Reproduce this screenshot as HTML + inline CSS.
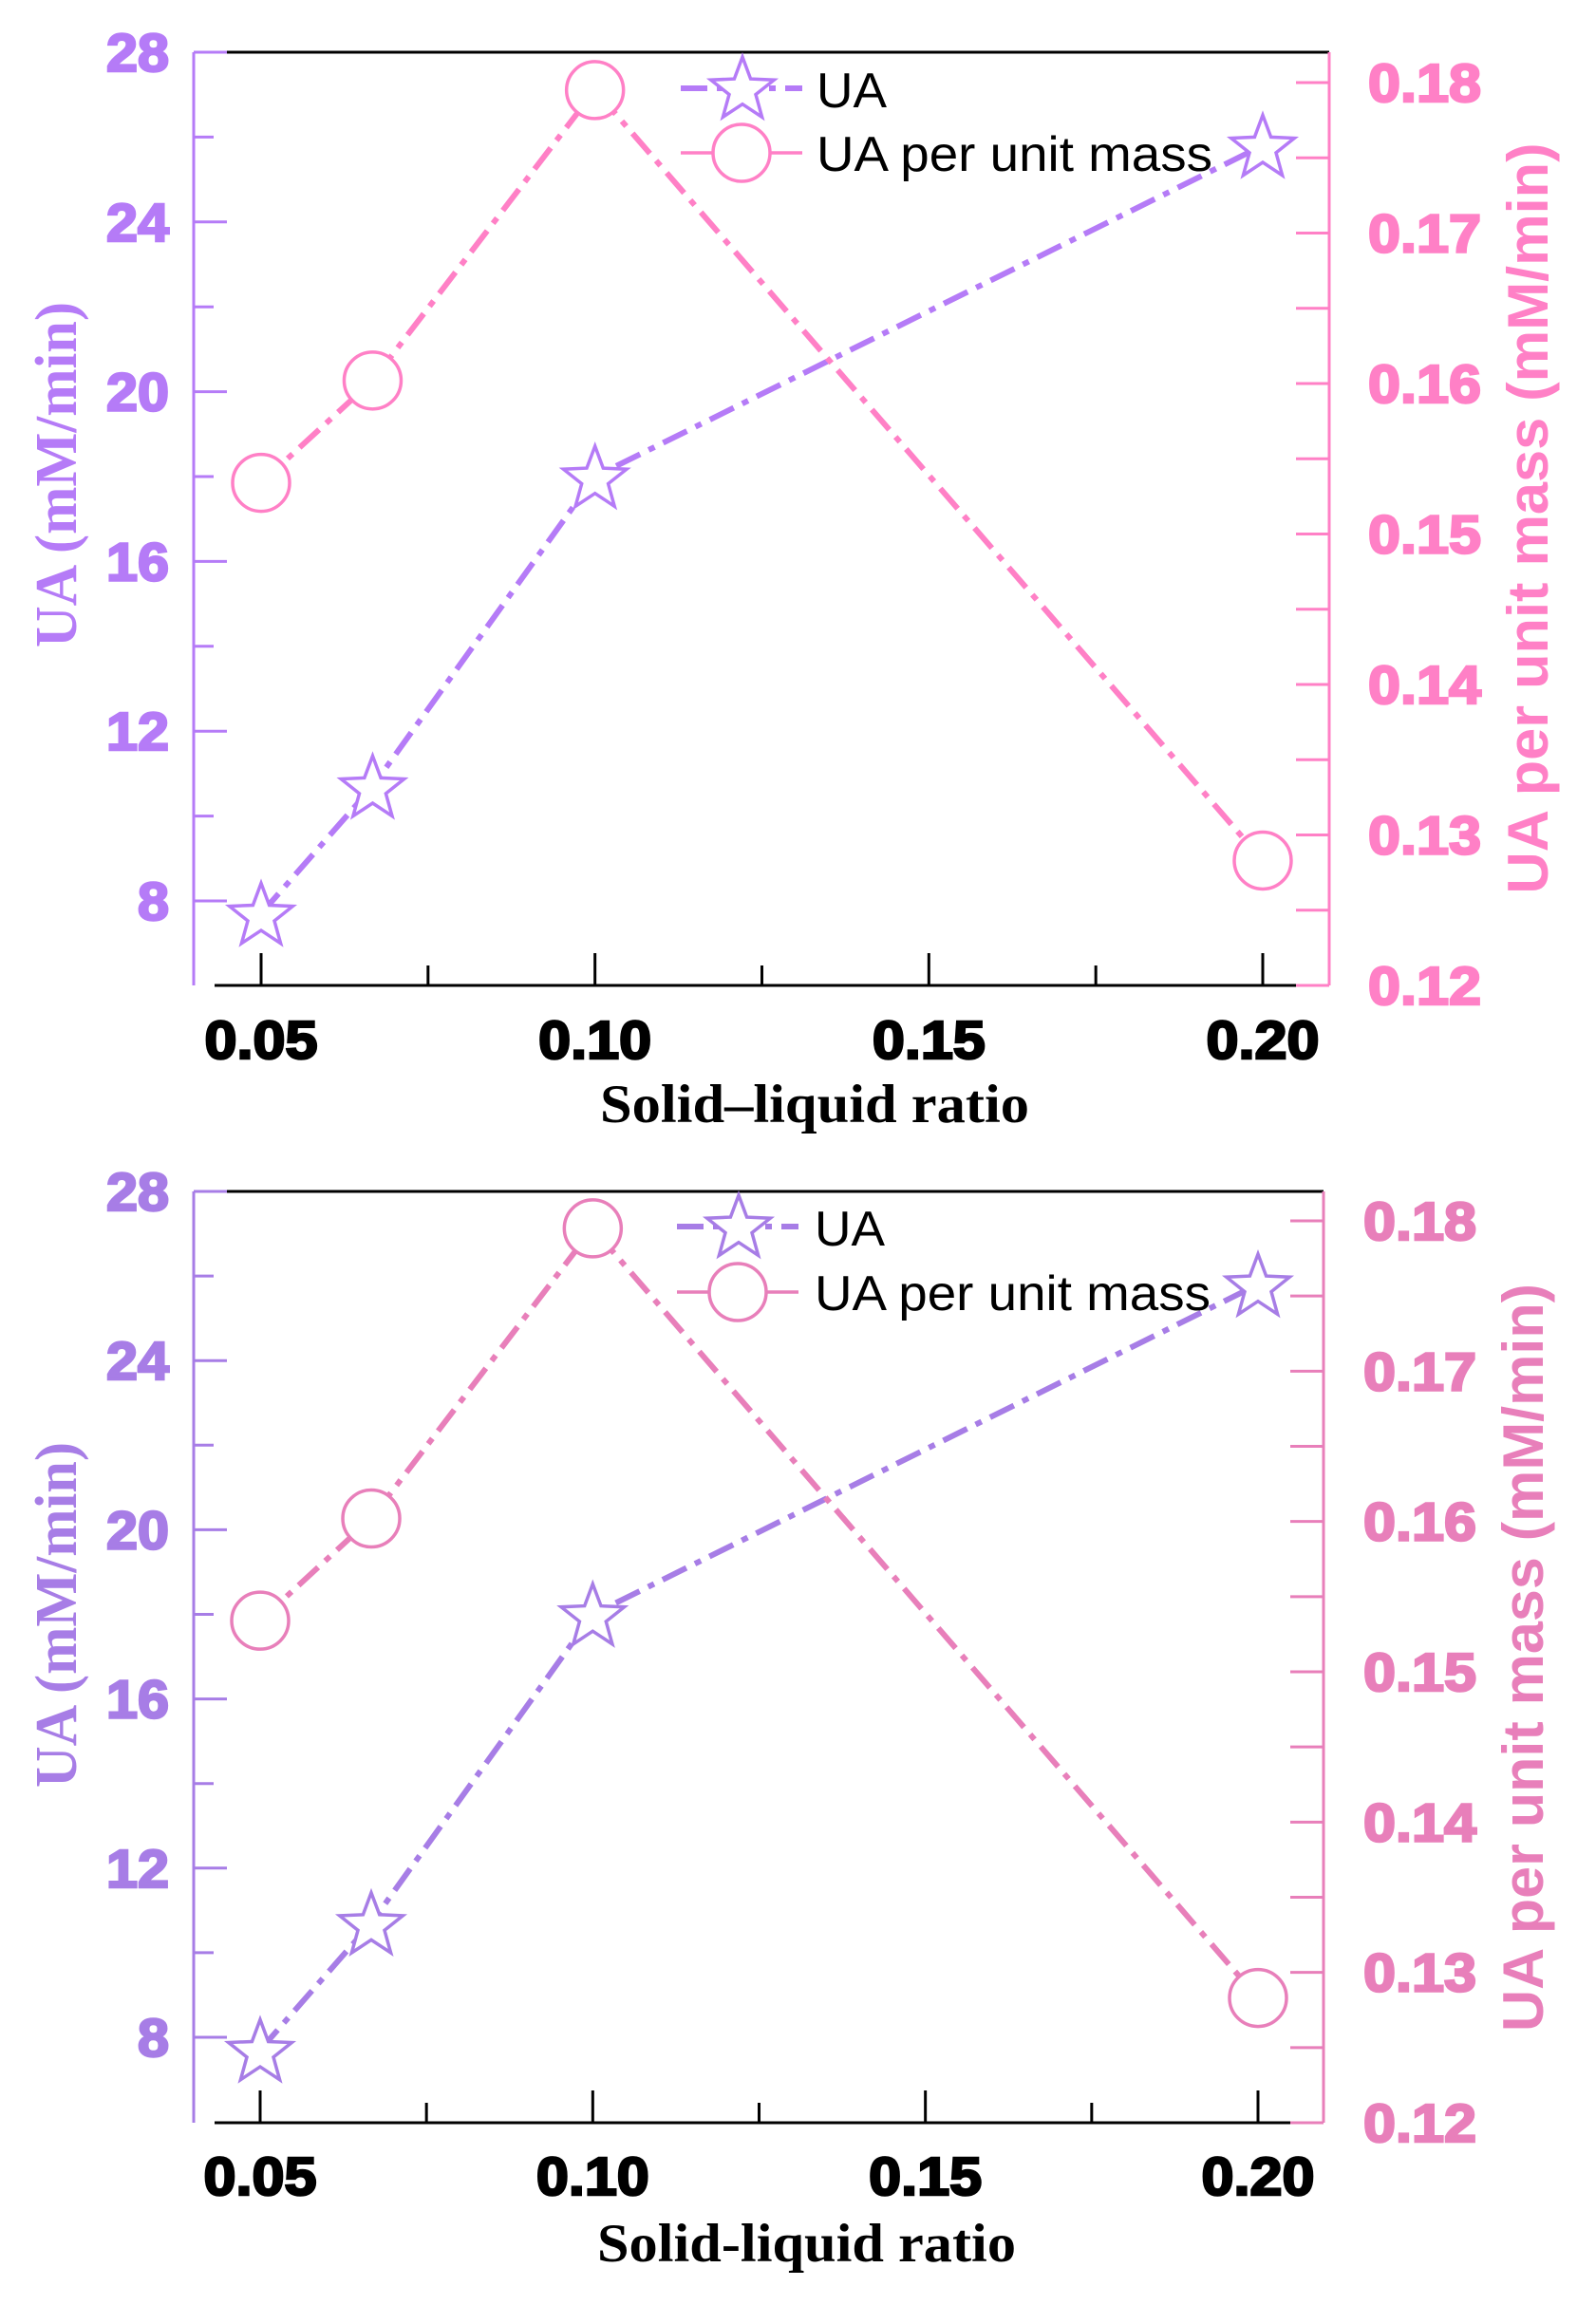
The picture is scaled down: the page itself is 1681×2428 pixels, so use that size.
<!DOCTYPE html>
<html><head><meta charset="utf-8">
<style>
html,body{margin:0;padding:0;background:#fff;}
svg{display:block;}
</style></head>
<body>
<svg id="chart" width="1681" height="2428" viewBox="0 0 1681 2428" xmlns="http://www.w3.org/2000/svg"></svg>
<script>
const categories = [0.05, 0.0667, 0.10, 0.20];
const uaValues = [7.7, 10.7, 18.0, 25.8];
const perMassValues = [0.1534, 0.1602, 0.1795, 0.1283];
const xTickLabels = ["0.05", "0.10", "0.15", "0.20"];
const xTickValues = [0.05, 0.10, 0.15, 0.20];
const xMinorValues = [0.075, 0.125, 0.175];
const leftTickValues = [8, 12, 16, 20, 24, 28];
const leftMinorValues = [10, 14, 18, 22, 26];
const rightTickValues = [0.12, 0.13, 0.14, 0.15, 0.16, 0.17, 0.18];
const rightTickLabels = ["0.12", "0.13", "0.14", "0.15", "0.16", "0.17", "0.18"];
const rightMinorValues = [0.125, 0.135, 0.145, 0.155, 0.165, 0.175];

const NS = "http://www.w3.org/2000/svg";
const svg = document.getElementById("chart");
function mk(tag, attrs, parent) {
  const e = document.createElementNS(NS, tag);
  for (const k in attrs) e.setAttribute(k, attrs[k]);
  (parent || svg).appendChild(e);
  return e;
}
function labelLen(s, d, p) { let w = 0; for (const c of s) w += (c === "." ? p : d); return w; }
function starPts(cx, cy, R) {
  const r = R * 0.42; let pts = [];
  for (let i = 0; i < 10; i++) {
    const a = -Math.PI / 2 + i * Math.PI / 5;
    const rr = i % 2 === 0 ? R : r;
    pts.push((cx + rr * Math.cos(a)).toFixed(1) + "," + (cy + rr * Math.sin(a)).toFixed(1));
  }
  return pts.join(" ");
}

function panel(cfg) {
  const g = mk("g", {});
  
  
  const X = v => cfg.x05 + (v - 0.05) / 0.15 * (cfg.x20 - cfg.x05);
  const YL = v => cfg.y8 + (v - 8) / 20 * (cfg.y28 - cfg.y8);
  const YR = v => cfg.y12 + (v - 0.12) / 0.06 * (cfg.y18 - cfg.y12);
  const P = cfg.purple, K = cfg.pink;

  const top = mk("line", {x1: cfg.left, y1: cfg.top, x2: cfg.right, y2: cfg.top, stroke: "#000", "stroke-width": 3}, g);
  
  
  const bot = mk("line", {x1: cfg.left + 22, y1: cfg.bottom, x2: cfg.right - 35, y2: cfg.bottom, stroke: "#000", "stroke-width": 3}, g);
  
  
  const la = mk("line", {x1: cfg.left, y1: cfg.top, x2: cfg.left, y2: cfg.bottom, stroke: P, "stroke-width": 3}, g);
  
  
  const ra = mk("line", {x1: cfg.right, y1: cfg.top, x2: cfg.right, y2: cfg.bottom, stroke: K, "stroke-width": 3}, g);
  
  
  mk("line", {x1: cfg.right - 35, y1: cfg.bottom, x2: cfg.right, y2: cfg.bottom, stroke: K, "stroke-width": 3}, g);
  mk("line", {x1: cfg.left, y1: cfg.top, x2: cfg.left + 35, y2: cfg.top, stroke: P, "stroke-width": 3}, g);

  xTickValues.forEach((v, i) => {
    mk("line", {x1: X(v), y1: cfg.bottom, x2: X(v), y2: cfg.bottom - 34, stroke: "#000", "stroke-width": 3}, g);
    const s = xTickLabels[i];
    const t = mk("text", {x: X(v), y: cfg.xLabY, "text-anchor": "middle", "font-family": "Liberation Sans, sans-serif", "font-weight": "bold", "font-size": 57, fill: "#000", stroke: "#000", "stroke-width": 2.5, textLength: labelLen(s, 33, 20), lengthAdjust: "spacingAndGlyphs"}, g);
    t.textContent = s;
    
    
  });
  xMinorValues.forEach(v => mk("line", {x1: X(v), y1: cfg.bottom, x2: X(v), y2: cfg.bottom - 21, stroke: "#000", "stroke-width": 3}, g));

  leftTickValues.forEach(v => {
    mk("line", {x1: cfg.left, y1: YL(v), x2: cfg.left + 35, y2: YL(v), stroke: P, "stroke-width": 3}, g);
    const s = String(v);
    const t = mk("text", {x: 178, y: YL(v) + 20, "text-anchor": "end", "font-family": "Liberation Sans, sans-serif", "font-weight": "bold", "font-size": 57, fill: P, stroke: P, "stroke-width": 2.5, textLength: labelLen(s, 33, 20), lengthAdjust: "spacingAndGlyphs"}, g);
    t.textContent = s;
    
    
  });
  leftMinorValues.forEach(v => mk("line", {x1: cfg.left, y1: YL(v), x2: cfg.left + 21, y2: YL(v), stroke: P, "stroke-width": 3}, g));

  rightTickValues.forEach((v, i) => {
    mk("line", {x1: cfg.right - 35, y1: YR(v), x2: cfg.right, y2: YR(v), stroke: K, "stroke-width": 3}, g);
    const s = rightTickLabels[i];
    const t = mk("text", {x: cfg.rLabX, y: YR(v) + 20, "font-family": "Liberation Sans, sans-serif", "font-weight": "bold", "font-size": 57, fill: K, stroke: K, "stroke-width": 2.5, textLength: labelLen(s, 33, 20), lengthAdjust: "spacingAndGlyphs"}, g);
    t.textContent = s;
    
    
  });
  rightMinorValues.forEach(v => mk("line", {x1: cfg.right - 35, y1: YR(v), x2: cfg.right, y2: YR(v), stroke: K, "stroke-width": 3}, g));

  const dash = "28 10 7 10";
  const uaLine = mk("polyline", {points: categories.map((c, i) => X(c) + "," + YL(uaValues[i])).join(" "), fill: "none", stroke: P, "stroke-width": 6, "stroke-dasharray": dash}, g);
  
  
  const pmLine = mk("polyline", {points: categories.map((c, i) => X(c) + "," + YR(perMassValues[i])).join(" "), fill: "none", stroke: K, "stroke-width": 6, "stroke-dasharray": dash}, g);
  
  

  categories.forEach((c, i) => {
    const s = mk("polygon", {points: starPts(X(c), YL(uaValues[i]) + 3, 35), fill: "#fff", stroke: P, "stroke-width": 3.5}, g);
    
    
    const o = mk("circle", {cx: X(c), cy: YR(perMassValues[i]), r: 30, fill: "#fff", stroke: K, "stroke-width": 3.5}, g);
    
    
  });

  const lg = mk("g", {}, g);
  
  
  mk("line", {x1: cfg.legX1, y1: cfg.legY1, x2: cfg.legX1 + 128, y2: cfg.legY1, stroke: P, "stroke-width": 6, "stroke-dasharray": dash}, lg);
  mk("polygon", {points: starPts(cfg.legX1 + 65, cfg.legY1 + 2, 35), fill: "#fff", stroke: P, "stroke-width": 3.5}, lg);
  mk("line", {x1: cfg.legX1, y1: cfg.legY2, x2: cfg.legX1 + 128, y2: cfg.legY2, stroke: K, "stroke-width": 3.5}, lg);
  mk("circle", {cx: cfg.legX1 + 64, cy: cfg.legY2, r: 30, fill: "#fff", stroke: K, "stroke-width": 3.5}, lg);
  const t1 = mk("text", {x: cfg.legTX, y: cfg.legY1 + 20, "font-family": "Liberation Sans, sans-serif", "font-size": 52, fill: "#000", textLength: 74, lengthAdjust: "spacingAndGlyphs"}, lg);
  t1.textContent = "UA";
  
  
  const t2 = mk("text", {x: cfg.legTX, y: cfg.legY2 + 19, "font-family": "Liberation Sans, sans-serif", "font-size": 52, fill: "#000", textLength: 417, lengthAdjust: "spacingAndGlyphs"}, lg);
  t2.textContent = "UA per unit mass";
  
  

  const lt = mk("text", {x: 0, y: 0, transform: `translate(80 ${cfg.ltC}) rotate(-90)`, "text-anchor": "middle", "font-family": "Liberation Serif, serif", "font-weight": "bold", "font-size": 62, fill: P, textLength: 364, lengthAdjust: "spacingAndGlyphs"}, g);
  lt.textContent = "UA (mM/min)";
  
  
  const rt = mk("text", {x: 0, y: 0, transform: `translate(${cfg.rtX} ${cfg.rtC}) rotate(-90)`, "text-anchor": "middle", "font-family": "Liberation Sans, sans-serif", "font-weight": "bold", "font-size": 60, fill: K, textLength: cfg.rtLen, lengthAdjust: "spacingAndGlyphs"}, g);
  rt.textContent = "UA per unit mass (mM/min)";
  
  
  const xt = mk("text", {x: cfg.xtX, y: cfg.xtY, "font-family": "Liberation Serif, serif", "font-weight": "bold", "font-size": 57, fill: "#000", textLength: cfg.xtLen, lengthAdjust: "spacingAndGlyphs"}, g);
  xt.textContent = cfg.xTitle;
  
  
}

panel({name: "top-chart", purple: "#b57bf7", pink: "#ff80c6",
  left: 204, right: 1400, top: 55, bottom: 1038,
  x05: 275, x20: 1330, y8: 949, y28: 55, y12: 1038, y18: 87,
  xLabY: 1115, rLabX: 1441,
  legX1: 717, legY1: 93, legY2: 161, legTX: 860,
  ltC: 500, rtX: 1630, rtC: 546, rtLen: 791,
  xtX: 632, xtY: 1182, xtLen: 452, xTitle: "Solid\u2013liquid ratio"});

panel({name: "bottom-chart", purple: "#a77de6", pink: "#e87fba",
  left: 204, right: 1394, top: 1255, bottom: 2236,
  x05: 274, x20: 1325, y8: 2146, y28: 1255, y12: 2236, y18: 1286,
  xLabY: 2312, rLabX: 1436,
  legX1: 713, legY1: 1292, legY2: 1361, legTX: 858,
  ltC: 1701, rtX: 1625, rtC: 1746, rtLen: 788,
  xtX: 629, xtY: 2382, xtLen: 441, xTitle: "Solid-liquid ratio"});
</script>
</body></html>
